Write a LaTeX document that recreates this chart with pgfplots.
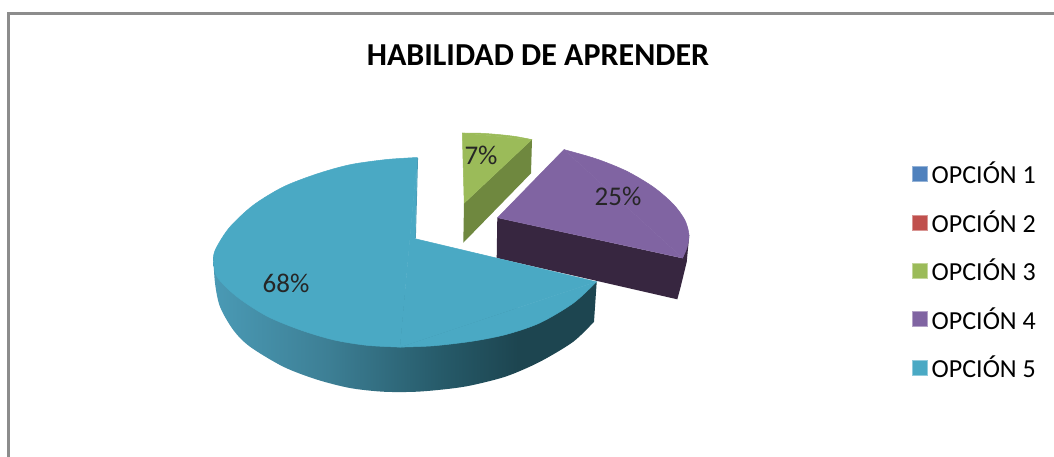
\documentclass[border=0pt]{standalone}
\usepackage{pgfplots}
\pgfplotsset{compat=1.18}
\usepackage{fontspec}
\setmainfont{Carlito}
\definecolor{opone}{HTML}{4F81BD}
\definecolor{optwo}{HTML}{C0504D}
\definecolor{opthree}{HTML}{9BBB59}
\definecolor{opthreeside}{HTML}{6F883F}
\definecolor{opfour}{HTML}{8064A2}
\definecolor{opfourside}{HTML}{372640}
\definecolor{opfive}{HTML}{4AA9C4}
\definecolor{rimA}{HTML}{4A9AB5}
\definecolor{rimB}{HTML}{3D7F95}
\definecolor{rimC}{HTML}{265A69}
\definecolor{rimD}{HTML}{1D4550}
\definecolor{framec}{HTML}{8C8C8C}
\pgfdeclarehorizontalshading{rimshade}{100bp}{color(0bp)=(rimA); color(25bp)=(rimA); color(40bp)=(rimB); color(55bp)=(rimC); color(65bp)=(rimD); color(100bp)=(rimD)}
\begin{document}
\begin{tikzpicture}
\begin{axis}[
  width=1054pt, height=456pt, scale only axis,
  xmin=0, xmax=1054, ymin=0, ymax=456, y dir=reverse,
  hide axis, clip=true,
  legend style={at={(axis cs:912,160)}, anchor=north west, draw=none, fill=none,
    font=\fontsize{26}{28}\selectfont, row sep=21.2pt, column sep=2.5pt, inner sep=0pt},
  legend cell align=left,
]
% canvas
\addplot[draw=none, fill=white, forget plot] coordinates {(0,0)(1054,0)(1054,456)(0,456)} -- cycle;
% frame
\addplot[draw=framec, line width=2.2pt, forget plot] coordinates {(8.5,460)(8.5,13.5)(1060,13.5)};
% legend keys
\addlegendimage{only marks, mark=square*, mark size=7.5pt, mark options={draw=opone!60!white, fill=opone}}
\addlegendentry{OPCIÓN 1}
\addlegendimage{only marks, mark=square*, mark size=7.5pt, mark options={draw=optwo!60!white, fill=optwo}}
\addlegendentry{OPCIÓN 2}
\addlegendimage{only marks, mark=square*, mark size=7.5pt, mark options={draw=opthree!60!white, fill=opthree}}
\addlegendentry{OPCIÓN 3}
\addlegendimage{only marks, mark=square*, mark size=7.5pt, mark options={draw=opfour!60!white, fill=opfour}}
\addlegendentry{OPCIÓN 4}
\addlegendimage{only marks, mark=square*, mark size=7.5pt, mark options={draw=opfive!60!white, fill=opfive}}
\addlegendentry{OPCIÓN 5}
% OPCION 3: 7%
\addplot[draw=none, fill=opthreeside, forget plot] coordinates {(532,139.3)(464,203.3)(463.3,242.7)(531,173.3)} -- cycle;
\addplot[draw=opthree, line width=0.5pt, fill=opthree, forget plot] coordinates {(462.3,133)(531.7,139.6)(464.2,203)} -- cycle;
\addplot[draw=opthree, line width=0.5pt, fill=opthree, smooth, forget plot] coordinates {(462.3,133)(480,133.2)(497,134.4)(515,136.4)(531.7,139.6)};
% OPCION 4: 25%
\addplot[draw=none, fill=opfourside, forget plot] coordinates {(497.3,217.7)(682.7,258.3)(689.3,235)(686.7,262)(680.7,286.7)(677.3,299.3)(496.7,258)} -- cycle;
\addplot[draw=opfour, line width=0.5pt, fill=opfour, forget plot] coordinates {(497.6,217.7)(564,149.6)(682.5,258)} -- cycle;
\addplot[draw=opfour, line width=0.5pt, fill=opfour, smooth, forget plot] coordinates {(564,149.6)(596.7,159)(626.7,171.2)(653.3,187)(673.1,204)(684.8,220)(689,235)(686.8,248)(682.5,258)};
% OPCION 5: 68%
\addplot[draw=none, shading=rimshade, smooth, forget plot] coordinates {(213.3,256.7)(215,283)(220,306.7)(233.3,330)(250,346.7)(283.3,366.7)(316.7,379.5)(350,388)(383.3,391.7)(416.7,391.7)(450,388.7)(473,385)(506.7,376.2)(540,361.7)(573.3,341.7)(594,321.7)};
\addplot[draw=none, fill=rimD, forget plot] coordinates {(596.7,281.7)(594,321.7)(560,345)(530,320)} -- cycle;
\addplot[draw=rimA, line width=0.9pt, forget plot] coordinates {(417.6,158)(415.4,238)};
\addplot[draw=opfive, line width=0.5pt, fill=opfive, smooth, forget plot] coordinates {(417.3,157.5)(386.7,159.5)(350,164.7)(316.7,174)(283.3,186.9)(253.3,205.2)(230,226.9)(216.9,246.7)(213.5,258)(216.9,276.5)(236.7,296.5)(266.7,316)(300,329.8)(333.3,339.8)(366.7,345.3)(400,347.1)};
\addplot[draw=opfive, line width=0.5pt, fill=opfive, smooth, forget plot] coordinates {(400,347.1)(433.3,345.8)(473,341.1)(506.7,334.3)(540,322.8)(573.3,303.1)(596.4,281.8)};
\addplot[draw=opfive, line width=0.5pt, fill=opfive, forget plot] coordinates {(417.1,157.5)(415,238.7)(596.4,281.8)(400,347.1)} -- cycle;
% data labels
\node[font=\fontsize{27}{29}\selectfont, text=black!85] at (axis cs:286,283) {68\%};
\node[font=\fontsize{27}{29}\selectfont, text=black!85] at (axis cs:618,196.5) {25\%};
\node[font=\fontsize{27}{29}\selectfont, text=black!85] at (axis cs:481,155) {7\%};
% title
\node[font=\bfseries\fontsize{32}{34}\selectfont, text=black] at (axis cs:538,55) {HABILIDAD DE APRENDER};
\end{axis}
\end{tikzpicture}
\end{document}
